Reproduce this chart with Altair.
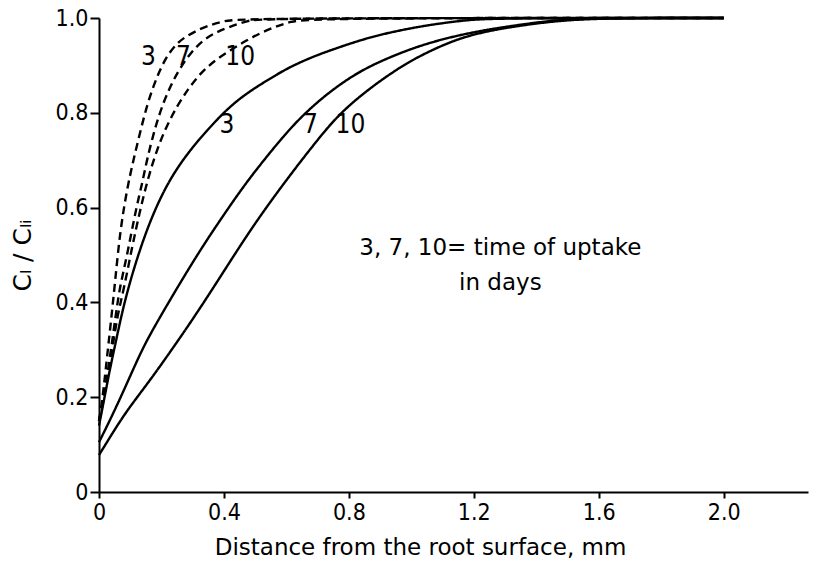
import altair as alt
import pandas as pd

# Dashed curves (3, 7, 10 days)
d3_x = [0, 0.01, 0.02, 0.04, 0.052, 0.068, 0.09, 0.11, 0.131, 0.155, 0.185, 0.215, 0.249, 0.285, 0.324, 0.36, 0.398, 0.45, 2.0]
d3_y = [0.15, 0.19, 0.25, 0.37, 0.447, 0.553, 0.64, 0.70, 0.757, 0.82, 0.876, 0.918, 0.947, 0.964, 0.977, 0.986, 0.993, 1.0, 1.0]

d7_x = [0, 0.01, 0.025, 0.045, 0.063, 0.08, 0.095, 0.121, 0.138, 0.153, 0.18, 0.206, 0.235, 0.26, 0.295, 0.334, 0.375, 0.42, 0.473, 0.53, 2.0]
d7_y = [0.15, 0.18, 0.24, 0.33, 0.42, 0.47, 0.517, 0.605, 0.65, 0.70, 0.77, 0.822, 0.865, 0.895, 0.928, 0.954, 0.97, 0.982, 0.994, 1.0, 1.0]

d10_x = [0, 0.01, 0.025, 0.04, 0.058, 0.079, 0.106, 0.13, 0.154, 0.185, 0.215, 0.249, 0.285, 0.324, 0.37, 0.42, 0.47, 0.516, 0.565, 0.612, 0.68, 2.0]
d10_y = [0.15, 0.18, 0.23, 0.29, 0.37, 0.426, 0.517, 0.59, 0.655, 0.722, 0.77, 0.813, 0.85, 0.883, 0.91, 0.932, 0.952, 0.968, 0.982, 0.992, 1.0, 1.0]

# Solid curves (3, 7, 10 days)
s3_x = [0, 0.015, 0.035, 0.055, 0.074, 0.106, 0.159, 0.223, 0.292, 0.345, 0.398, 0.45, 0.505, 0.56, 0.612, 0.69, 0.772, 0.85, 0.933, 1.05, 1.168, 1.26, 2.0]
s3_y = [0.14, 0.19, 0.26, 0.32, 0.38, 0.461, 0.567, 0.658, 0.722, 0.762, 0.80, 0.83, 0.855, 0.877, 0.897, 0.92, 0.939, 0.956, 0.97, 0.985, 0.995, 1.0, 1.0]

s7_x = [0, 0.046, 0.099, 0.142, 0.196, 0.265, 0.324, 0.377, 0.43, 0.484, 0.591, 0.666, 0.751, 0.84, 0.933, 1.02, 1.114, 1.22, 1.328, 1.44, 1.56, 2.0]
s7_y = [0.105, 0.166, 0.243, 0.307, 0.37, 0.447, 0.51, 0.563, 0.614, 0.664, 0.752, 0.804, 0.851, 0.89, 0.918, 0.94, 0.958, 0.973, 0.984, 0.994, 1.0, 1.0]

s10_x = [0, 0.03, 0.063, 0.099, 0.159, 0.206, 0.292, 0.382, 0.484, 0.591, 0.698, 0.772, 0.869, 0.95, 1.007, 1.09, 1.168, 1.25, 1.328, 1.45, 1.6, 2.0]
s10_y = [0.078, 0.11, 0.145, 0.18, 0.232, 0.275, 0.356, 0.447, 0.553, 0.651, 0.742, 0.80, 0.853, 0.89, 0.913, 0.94, 0.96, 0.973, 0.982, 0.993, 1.0, 1.0]

# Curve labels
lab_text = ["3", "7", "10", "3", "7", "10"]
lab_x = [0.158, 0.27, 0.452, 0.41, 0.677, 0.805]
lab_y = [0.918, 0.918, 0.918, 0.774, 0.774, 0.774]

note_lines = ["3, 7, 10= time of uptake", "in days"]
note_x = [1.285, 1.285]
note_y = [0.515, 0.441]

x_ticks = [0, 0.4, 0.8, 1.2, 1.6, 2.0]
y_ticks = [0, 0.2, 0.4, 0.6, 0.8, 1.0]

series = [
    ("d3", "dashed", d3_x, d3_y),
    ("d7", "dashed", d7_x, d7_y),
    ("d10", "dashed", d10_x, d10_y),
    ("s3", "solid", s3_x, s3_y),
    ("s7", "solid", s7_x, s7_y),
    ("s10", "solid", s10_x, s10_y),
]
rows = []
for name, style, xs, ys in series:
    for i, (a, b) in enumerate(zip(xs, ys)):
        rows.append({"series": name, "style": style, "dist": a, "conc": b, "idx": i})
df = pd.DataFrame(rows)

labels = pd.DataFrame({"t": lab_text, "dist": lab_x, "conc": lab_y})
notes = pd.DataFrame({"t": note_lines, "dist": note_x, "conc": note_y})

FONT = "DejaVu Sans"
NARROW = "'DejaVu Sans Condensed', 'DejaVu Sans'"
label_expr = "datum.value == 0 ? '0' : format(datum.value, '.1f')"

xscale = alt.Scale(domain=[0, 2.27], nice=False, zero=False)
yscale = alt.Scale(domain=[0, 1], nice=False)

xaxis = alt.Axis(values=x_ticks, labelExpr=label_expr, tickSize=6, labelPadding=3,
                 title="Distance from the root surface, mm", titleFontSize=23,
                 titleX=321, titleY=55)
yaxis = alt.Axis(values=y_ticks, labelExpr=label_expr, tickSize=9, labelPadding=2,
                 title="Cₗ / Cₗᵢ", titleFontSize=25,
                 titleX=-77, titleY=237, titleAngle=270)

lines = alt.Chart(df).mark_line(color="black", strokeWidth=2.4, interpolate="basis").encode(
    x=alt.X("dist:Q", scale=xscale, axis=xaxis),
    y=alt.Y("conc:Q", scale=yscale, axis=yaxis),
    detail="series:N",
    order="idx:Q",
    strokeDash=alt.StrokeDash("style:N", scale=alt.Scale(domain=["solid", "dashed"], range=[[1, 0], [8, 5]]), legend=None),
)

lab = alt.Chart(labels).mark_text(font=NARROW, fontSize=26, color="black", align="center", baseline="middle").encode(
    x=alt.X("dist:Q", scale=xscale, axis=xaxis), y=alt.Y("conc:Q", scale=yscale, axis=yaxis), text="t:N")

note = alt.Chart(notes).mark_text(font=FONT, fontSize=23, color="black", align="center", baseline="middle").encode(
    x=alt.X("dist:Q", scale=xscale, axis=xaxis), y=alt.Y("conc:Q", scale=yscale, axis=yaxis), text="t:N")

chart = alt.layer(lines, lab, note).properties(
    width=709, height=474,
    autosize=alt.AutoSizeParams(type="none"),
    padding={"left": 99, "top": 18, "right": 16, "bottom": 71},
    background="white",
).configure_view(stroke=None).configure_axis(
    grid=False, domainColor="black", domainWidth=2, tickColor="black", tickWidth=2,
    labelFont=NARROW, labelFontSize=23, labelColor="black", labelFlush=False,
    titleFont=FONT, titleFontWeight="normal", titleColor="black",
    titleBaseline="middle", titleAlign="center",
)

chart.save("out.html", embed_options={"renderer": "svg", "actions": False})
